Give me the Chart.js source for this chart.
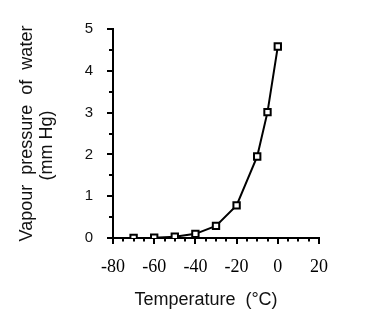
<!DOCTYPE html>
<html>
<head>
<meta charset="utf-8">
<title>Vapour pressure of water</title>
<script src="https://cdn.jsdelivr.net/npm/chart.js@4.4.1/dist/chart.umd.min.js"></script>
<style>
    html, body { margin: 0; padding: 0; background: #fff; }
    canvas { display: block; }
</style>
</head>
<body>
<canvas id="vapourChart" width="372" height="322"></canvas>
<script>
// Vapour pressure of water (mm Hg) against temperature (°C)
const temps = [-70, -60, -50, -40, -30, -20, -10, -5, 0];
const pressures = [0.002, 0.008, 0.03, 0.1, 0.29, 0.78, 1.95, 3.01, 4.58];

const xTicks = [-80, -60, -40, -20, 0, 20];
const yTicks = [0, 1, 2, 3, 4, 5];
const xMinorStep = 5;
const yMinorStep = 0.5;

const xTitle = 'Temperature  (°C)';
const yTitle = ['Vapour  pressure  of  water', '(mm Hg)'];

const sans = '"Liberation Sans", Arial, Helvetica, sans-serif';
const serif = '"Liberation Serif", "Times New Roman", serif';

// Tick marks on the outside of both axes, long ones at labels, short ones between
const axisTicks = {
    id: 'axisTicks',
    afterDraw(chart) {
        const { ctx, chartArea, scales } = chart;
        const x = scales.x, y = scales.y;
        ctx.save();
        ctx.strokeStyle = '#000';
        ctx.lineWidth = 2;
        ctx.beginPath();
        for (let v = x.min; v <= x.max + 1e-9; v += xMinorStep) {
            const px = Math.round(x.getPixelForValue(v));
            const len = xTicks.includes(v) ? 6 : 3.5;
            ctx.moveTo(px, chartArea.bottom);
            ctx.lineTo(px, chartArea.bottom + len);
        }
        for (let v = y.min; v <= y.max + 1e-9; v += yMinorStep) {
            const py = Math.round(y.getPixelForValue(v));
            const len = yTicks.includes(v) ? 6 : 4;
            ctx.moveTo(chartArea.left, py);
            ctx.lineTo(chartArea.left - len, py);
        }
        ctx.stroke();
        ctx.restore();
    }
};

// Axis titles, the y one on two rotated lines
const axisTitles = {
    id: 'axisTitles',
    afterDraw(chart) {
        const { ctx, chartArea } = chart;
        ctx.save();
        ctx.fillStyle = '#111';
        ctx.font = '18px ' + sans;
        ctx.textAlign = 'center';
        ctx.textBaseline = 'alphabetic';
        ctx.fillText(xTitle, 206, 305);

        const midY = (chartArea.top + chartArea.bottom) / 2;
        ctx.translate(32, midY);
        ctx.rotate(-Math.PI / 2);
        ctx.fillText(yTitle[0], 0, 0);
        ctx.fillText(yTitle[1], -12, 20);
        ctx.restore();
    }
};

const ctx = document.getElementById('vapourChart').getContext('2d');
const vapourChart = new Chart(ctx, {
    type: 'scatter',
    data: {
        datasets: [{
            label: 'Vapour pressure',
            data: temps.map((t, i) => ({ x: t, y: pressures[i] })),
            showLine: true,
            borderColor: '#000',
            borderWidth: 2,
            tension: 0,
            pointStyle: 'rect',
            pointRadius: 4.5,
            pointBorderWidth: 2,
            pointBackgroundColor: '#fff',
            pointBorderColor: '#000'
        }]
    },
    options: {
        responsive: false,
        animation: false,
        layout: {
            padding: { top: 25, right: 53, left: 0, bottom: 0 }
        },
        plugins: {
            legend: { display: false },
            tooltip: { enabled: false }
        },
        scales: {
            x: {
                type: 'linear',
                min: -80,
                max: 20,
                afterBuildTicks: (scale) => { scale.ticks = xTicks.map(v => ({ value: v })); },
                afterFit: (scale) => { scale.height = 84; },
                grid: { drawOnChartArea: false, drawTicks: false },
                border: { color: '#000', width: 2 },
                ticks: {
                    padding: 18,
                    maxRotation: 0,
                    color: '#000',
                    font: { family: serif, size: 18 }
                }
            },
            y: {
                min: 0,
                max: 5,
                afterBuildTicks: (scale) => { scale.ticks = yTicks.map(v => ({ value: v })); },
                afterFit: (scale) => { scale.width = 113; },
                grid: { drawOnChartArea: false, drawTicks: false },
                border: { color: '#000', width: 2 },
                ticks: {
                    padding: 20,
                    color: '#111',
                    font: { family: sans, size: 15 }
                }
            }
        }
    },
    plugins: [axisTicks, axisTitles]
});
</script>
</body>
</html>
